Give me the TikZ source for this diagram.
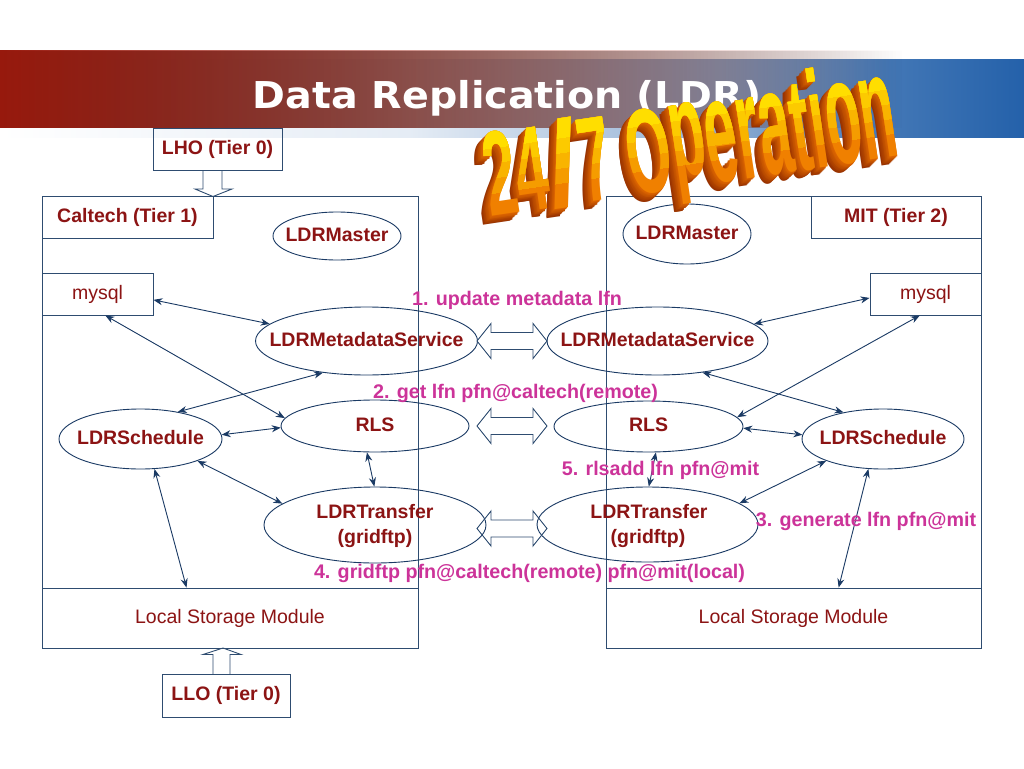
\documentclass[tikz,border=0pt]{standalone}
\usepackage{fontspec}
\setmainfont{Liberation Sans}
\newfontfamily\titlefont{DejaVu Sans}
\usetikzlibrary{shapes.geometric,arrows.meta,fadings}
\definecolor{dred}{HTML}{8C1414}
\definecolor{mag}{HTML}{CC3399}
\definecolor{navy}{HTML}{1A3A64}
\definecolor{boxc}{HTML}{2E4C70}
\definecolor{tredA}{HTML}{981A0E}
\definecolor{tredB}{HTML}{B85A50}
\definecolor{tblue}{HTML}{2461AA}
\definecolor{waA}{HTML}{E06800}
\definecolor{waB}{HTML}{983200}
\definecolor{wf1}{HTML}{F08000}
\definecolor{wf2}{HTML}{F59C00}
\definecolor{wf3}{HTML}{F9B400}
\definecolor{wf4}{HTML}{FCCA00}
\definecolor{wf5}{HTML}{FFDE00}
\tikzfading[name=fadeR, left color=transparent!0, middle color=transparent!22, right color=transparent!100]
\pgfdeclarehorizontalshading{bluebar}{100bp}{color(0bp)=(white); color(25bp)=(white); color(45bp)=(white!88!tblue); color(60bp)=(white!50!tblue); color(68bp)=(white!15!tblue); color(75bp)=(tblue); color(100bp)=(tblue)}
\newcommand\wordart{\scalebox{0.48}[1]{\bfseries\fontsize{120}{120}\selectfont 24\scalebox{2}[1]{/}7 O\raisebox{0.1em}{\scalebox{1}[1.12]{p}}\scalebox{1}[1.24]{era}\scalebox{1}[1.1]{t}\scalebox{1}[1.15]{i}\scalebox{1}[1.24]{on}}}
\begin{document}
\begin{tikzpicture}[x=1pt,y=-1pt,
  box/.style={draw=boxc, line width=0.9pt, rectangle, inner sep=0pt},
  ell/.style={draw=navy, ellipse, line width=0.9pt, inner sep=0pt},
  nt/.style={font=\bfseries\fontsize{19.5}{23}\selectfont, text=dred, text height=14pt, text depth=4pt, inner sep=0pt},
  rt/.style={font=\fontsize{19.5}{23}\selectfont, text=dred, text height=14pt, text depth=4pt, inner sep=0pt},
  lbl/.style={font=\bfseries\fontsize{19.7}{23}\selectfont, text=mag, text height=14pt, text depth=4pt, inner sep=0pt},
  conn/.style={draw=navy, line width=0.9pt, {Stealth[length=9pt,width=7pt]}-{Stealth[length=9pt,width=7pt]}},
  hollow/.style={draw=boxc, line width=0.9pt},
  wanode/.style={anchor=base west, inner sep=0pt, transform shape}
]
\useasboundingbox (0,0) rectangle (1024,768);
\fill[white] (0,0) rectangle (1024,768);

% title bars
\fill[shading=bluebar] (0,59) rectangle (1024,137);
\fill[left color=tredA, right color=tredB, path fading=fadeR] (0,51) rectangle (903,128);
\node[font=\titlefont\bfseries\fontsize{37}{40}\selectfont, text=white, anchor=base, inner sep=0pt] (title) at (507,108) {\scalebox{1.07}[1]{Data Replication (LDR)}};

% panels
\node[box, minimum width=376, minimum height=452] (panelL) at (230,422) {};
\node[box, minimum width=375, minimum height=452] (panelR) at (793.5,422) {};

% left boxes
\node[box, nt, minimum width=129, minimum height=42] (lho) at (217.5,149) {LHO (Tier 0)};
\node[box, nt, minimum width=171, minimum height=42] (calt) at (127.5,217) {Caltech (Tier 1)};
\node[box, rt, minimum width=111, minimum height=42] (mysqlL) at (97.5,294) {mysql};
\node[box, rt, minimum width=376, minimum height=60] (lsmL) at (230,618) {Local Storage Module};
\node[box, nt, minimum width=128, minimum height=43] (llo) at (226,695.5) {LLO (Tier 0)};

% right boxes
\node[box, nt, minimum width=170, minimum height=42] (mit) at (896,217) {MIT (Tier 2)};
\node[box, rt, minimum width=111, minimum height=42] (mysqlR) at (925.5,294) {mysql};
\node[box, rt, minimum width=375, minimum height=60] (lsmR) at (793.5,618) {Local Storage Module};

% left ellipses
\node[ell, minimum width=128, minimum height=48] (masterL) at (337,236) {};
\node[nt] (masterLt) at (masterL) {LDRMaster};
\node[ell, minimum width=222, minimum height=68] (metaL) at (366.5,341) {};
\node[nt] (metaLt) at (metaL) {LDRMetadataService};
\node[ell, minimum width=188, minimum height=52] (rlsL) at (375,426) {};
\node[nt] (rlsLt) at (rlsL) {RLS};
\node[ell, minimum width=163, minimum height=60] (schedL) at (140.5,439) {};
\node[nt] (schedLt) at (schedL) {LDRSchedule};
\node[ell, minimum width=222, minimum height=76] (transL) at (375,525) {};
\node[nt] (transLt1) at (375,513) {LDRTransfer};
\node[nt] (transLt2) at (375,538) {(gridftp)};

% right ellipses
\node[ell, minimum width=128, minimum height=60] (masterR) at (687,234) {};
\node[nt] (masterRt) at (masterR) {LDRMaster};
\node[ell, minimum width=221, minimum height=68] (metaR) at (657.5,341) {};
\node[nt] (metaRt) at (metaR) {LDRMetadataService};
\node[ell, minimum width=189, minimum height=51] (rlsR) at (648.5,426.5) {};
\node[nt] (rlsRt) at (rlsR) {RLS};
\node[ell, minimum width=162, minimum height=60] (schedR) at (883,439) {};
\node[nt] (schedRt) at (schedR) {LDRSchedule};
\node[ell, minimum width=221, minimum height=75] (transR) at (647.5,524.5) {};
\node[nt] (transRt1) at (649,513) {LDRTransfer};
\node[nt] (transRt2) at (648,538) {(gridftp)};

% connectors left
\draw[conn] (mysqlL.-6) -- (metaL.170);
\draw[conn] (mysqlL.-70) -- (rlsL.175);
\draw[conn] (schedL.36) -- (metaL.-144);
\draw[conn] (schedL.3) -- (rlsL.181);
\draw[conn] (rlsL.-107) -- (transL.91);
\draw[conn] (schedL.-21) -- (transL.167);
\draw[conn] (schedL.-65) -- (lsmL.145);
% connectors right
\draw[conn] (mysqlR.184) -- (metaR.10);
\draw[conn] (mysqlR.-105) -- (rlsR.6);
\draw[conn] (metaR.-35) -- (schedR.146);
\draw[conn] (rlsR.-1) -- (schedR.177);
\draw[conn] (rlsR.-74) -- (transR.88);
\draw[conn] (schedR.-159) -- (transR.13);
\draw[conn] (schedR.-116) -- (lsmR.34);

% hollow arrows
\draw[hollow] (203,170) -- (203,189) -- (195,189) -- (213,196.5) -- (232,189) -- (222,189) -- (222,170);
\draw[hollow] (213,674) -- (213,654.5) -- (203,654.5) -- (223,648) -- (241,654.5) -- (230,654.5) -- (230,674);
\foreach \cy in {341,426,528.5}{
  \draw[hollow] (477,\cy) -- (491,\cy-17.5) -- (491,\cy-8.5) -- (533,\cy-8.5) -- (533,\cy-17.5) -- (547,\cy)
    -- (533,\cy+17.5) -- (533,\cy+8.5) -- (491,\cy+8.5) -- (491,\cy+17.5) -- cycle;
}

% labels
\node[lbl] (lab1) at (517,300) {1. update metadata lfn};
\node[lbl] (lab2) at (515.5,393) {2. get lfn pfn@caltech(remote)};
\node[lbl] (lab5) at (660.5,470) {5. rlsadd lfn pfn@mit};
\node[lbl] (lab3) at (866,521) {3. generate lfn pfn@mit};
\node[lbl] (lab4) at (529.5,573) {4. gridftp pfn@caltech(remote) pfn@mit(local)};

% word art
\begin{scope}[shift={(490,217)}, rotate=8.5]
  \foreach \k in {12,11,...,1}{
    \pgfmathsetmacro\pc{100*\k/12}
    \node[wanode, text=waB!\pc!waA] (wx\k) at (-0.8*\k, 0.6*\k) {\wordart};
  }
  \node[wanode, text=wf1] (wf0) at (0,0) {\wordart};
  \foreach \i/\c in {1/wf2,2/wf3,3/wf4,4/wf5}{
    \begin{scope}
      \clip (-30,-8-\i*15) rectangle (520,-170);
      \node[wanode, text=\c] (wf\i) at (0,0) {\wordart};
    \end{scope}
  }
\end{scope}
\end{tikzpicture}
\end{document}
